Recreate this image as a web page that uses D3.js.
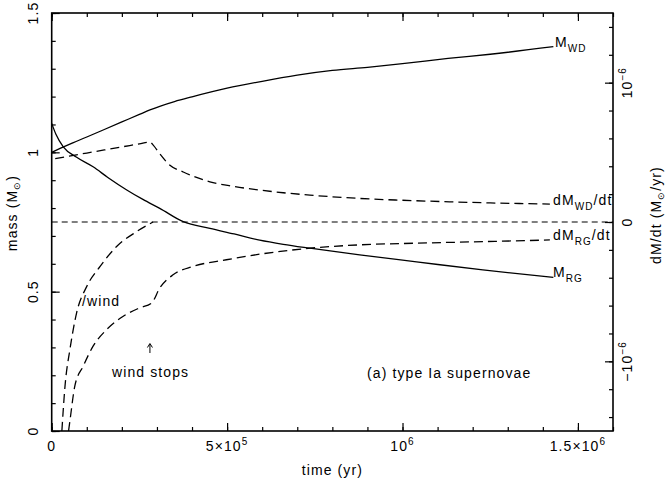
<!DOCTYPE html>
<html>
<head>
<meta charset="utf-8">
<script src="https://cdn.jsdelivr.net/npm/d3@7"></script>
<style>
  body { margin: 0; background: #fff; }
  svg { display: block; }
  text { font-family: "Liberation Sans", Arial, Helvetica, sans-serif; font-size: 14px; letter-spacing: 1.1px; fill: #000; }
  .axis line { stroke: #000; stroke-width: 1.2; }
  .axis path { display: none; }
</style>
</head>
<body>
<svg width="667" height="488"></svg>
<script>
// time axis in yr, masses in Msun, rates in units of 1e-6 Msun/yr
var tWD = [0, 2.4e4, 6e4, 1e5, 1.5e5, 2e5, 2.5e5, 2.8e5, 3.1e5, 3.5e5, 4e5, 5e5, 6e5, 7e5, 8e5, 9e5, 1e6, 1.13e6, 1.25e6, 1.43e6];
var massWD = [1.0, 1.014, 1.034, 1.055, 1.082, 1.109, 1.136, 1.152, 1.166, 1.182, 1.199, 1.230, 1.255, 1.277, 1.294, 1.305, 1.318, 1.337, 1.352, 1.379];

var tRG = [0, 1.2e4, 3.3e4, 7e4, 1.18e5, 1.6e5, 2.14e5, 2.6e5, 3.08e5, 3.75e5, 4.51e5, 5.2e5, 5.93e5, 6.6e5, 7.36e5, 8.78e5, 1.04e6, 1.229e6, 1.43e6];
var massRG = [1.104, 1.065, 1.02, 0.983, 0.948, 0.91, 0.865, 0.831, 0.799, 0.751, 0.727, 0.707, 0.685, 0.670, 0.656, 0.632, 0.607, 0.578, 0.551];

var tRateWD = [1e4, 5e4, 1e5, 1.5e5, 2e5, 2.5e5, 2.8e5, 2.9e5, 3.08e5, 3.37e5, 3.75e5, 4.51e5, 5.2e5, 5.93e5, 6.6e5, 7.36e5, 8.78e5, 1e6, 1.134e6, 1.25e6, 1.42e6];
var rateWD = [0.455, 0.473, 0.495, 0.517, 0.539, 0.561, 0.574, 0.55, 0.49, 0.407, 0.359, 0.288, 0.255, 0.229, 0.21, 0.193, 0.169, 0.156, 0.145, 0.137, 0.129];

var tWind = [2.9e4, 3.8e4, 5.2e4, 7.1e4, 1.0e5, 1.38e5, 1.85e5, 2.42e5, 2.89e5];
var rateWind = [-1.5, -1.176, -0.914, -0.652, -0.462, -0.319, -0.176, -0.069, 0];

var tRateRG = [4.8e4, 5.2e4, 6.6e4, 9.0e4, 1.18e5, 1.57e5, 2.04e5, 2.51e5, 2.85e5, 3.08e5, 3.46e5, 4.03e5, 4.98e5, 5.93e5, 7.36e5, 8.78e5, 1.04e6, 1.229e6, 1.42e6];
var rateRG = [-1.5, -1.426, -1.176, -1.034, -0.891, -0.771, -0.676, -0.616, -0.581, -0.474, -0.379, -0.319, -0.271, -0.231, -0.188, -0.164, -0.152, -0.141, -0.129];

var xMinor = d3.range(0, 1.6e6 + 1, 1e5);
var xMajor = [0, 5e5, 1e6, 1.5e6];
var yMinor = d3.range(0, 1.51, 0.1);
var yMajor = [0, 0.5, 1, 1.5];
var rMinor = d3.range(-1.4, 1.41, 0.2);
var rMajor = [-1, 0, 1];

var svg = d3.select('svg');
var plot = {l: 51.7, r: 613, t: 13, b: 431};

var x = d3.scaleLinear().domain([0, 1.6e6]).range([plot.l, plot.r]);
var yL = d3.scaleLinear().domain([0, 1.5]).range([plot.b, plot.t]);
var yR = d3.scaleLinear().domain([-1.5, 1.5]).range([plot.b, plot.t]);

svg.append('defs').append('clipPath').attr('id', 'clip')
    .append('rect')
    .attr('x', plot.l).attr('y', plot.t)
    .attr('width', plot.r - plot.l).attr('height', plot.b - plot.t);

// ticks (all pointing inward)
function addAxis(axis, tr) {
    svg.append('g').attr('class', 'axis')
        .attr('transform', tr)
        .call(axis);
}
addAxis(d3.axisBottom(x).tickValues(xMinor).tickSize(-4).tickFormat(''), 'translate(0,' + plot.b + ')');
addAxis(d3.axisBottom(x).tickValues(xMajor).tickSize(-8).tickFormat(''), 'translate(0,' + plot.b + ')');
addAxis(d3.axisTop(x).tickValues(xMinor).tickSize(-4).tickFormat(''), 'translate(0,' + plot.t + ')');
addAxis(d3.axisTop(x).tickValues(xMajor).tickSize(-8).tickFormat(''), 'translate(0,' + plot.t + ')');
addAxis(d3.axisLeft(yL).tickValues(yMinor).tickSize(-4).tickFormat(''), 'translate(' + plot.l + ',0)');
addAxis(d3.axisLeft(yL).tickValues(yMajor).tickSize(-8).tickFormat(''), 'translate(' + plot.l + ',0)');
addAxis(d3.axisRight(yR).tickValues(rMinor).tickSize(-4).tickFormat(''), 'translate(' + plot.r + ',0)');
addAxis(d3.axisRight(yR).tickValues(rMajor).tickSize(-8).tickFormat(''), 'translate(' + plot.r + ',0)');

svg.append('rect')
    .attr('x', plot.l).attr('y', plot.t)
    .attr('width', plot.r - plot.l).attr('height', plot.b - plot.t)
    .attr('fill', 'none')
    .attr('stroke', '#000')
    .attr('stroke-width', 1.6);

// curves
var g = svg.append('g').attr('clip-path', 'url(#clip)');

function drawLine(ts, vs, yScale, dash) {
    var pts = ts.map(function(t, i) { return [t, vs[i]]; });
    var line = d3.line()
        .x(function(d) { return x(d[0]); })
        .y(function(d) { return yScale(d[1]); })
        .curve(d3.curveMonotoneX);
    g.append('path')
        .datum(pts)
        .attr('d', line)
        .attr('fill', 'none')
        .attr('stroke', '#000')
        .attr('stroke-width', 1.3)
        .attr('stroke-dasharray', dash);
}

// zero rate line
g.append('line')
    .attr('x1', plot.l).attr('x2', plot.r)
    .attr('y1', yR(0)).attr('y2', yR(0))
    .attr('stroke', '#000')
    .attr('stroke-width', 1.2)
    .attr('stroke-dasharray', '6,4');

drawLine(tWD, massWD, yL, null);
drawLine(tRG, massRG, yL, null);
drawLine(tRateWD, rateWD, yR, '9,5');
drawLine(tWind, rateWind, yR, '9,5');
drawLine(tRateRG, rateRG, yR, '9,5');

// tick labels
function sup(sel, base, exp) {
    sel.append('tspan').text(base);
    sel.append('tspan').attr('font-size', '10px').attr('dy', -6).text(exp);
}

var xl = svg.append('g');
xl.append('text').attr('x', x(0)).attr('y', 451).attr('text-anchor', 'middle').text('0');
sup(xl.append('text').attr('x', x(5e5)).attr('y', 451).attr('text-anchor', 'middle'), '5×10', '5');
sup(xl.append('text').attr('x', x(1e6)).attr('y', 451).attr('text-anchor', 'middle'), '10', '6');
sup(xl.append('text').attr('x', x(1.5e6)).attr('y', 451).attr('text-anchor', 'middle'), '1.5×10', '6');

var yLabels = ['0', '0.5', '1', '1.5'];
yMajor.forEach(function(v, i) {
    svg.append('text')
        .attr('transform', 'translate(38,' + yL(v) + ') rotate(-90)')
        .attr('text-anchor', 'middle')
        .text(yLabels[i]);
});

var rLabels = [['−10', '−6'], ['0', ''], ['10', '−6']];
rMajor.forEach(function(v, i) {
    var t = svg.append('text')
        .attr('transform', 'translate(632,' + yR(v) + ') rotate(-90)')
        .attr('text-anchor', 'middle');
    if (rLabels[i][1]) sup(t, rLabels[i][0], rLabels[i][1]);
    else t.text(rLabels[i][0]);
});

// axis titles
svg.append('text')
    .attr('x', (plot.l + plot.r) / 2).attr('y', 475)
    .attr('text-anchor', 'middle')
    .text('time (yr)');

var lt = svg.append('text')
    .attr('transform', 'translate(17,213) rotate(-90)')
    .attr('text-anchor', 'middle');
lt.append('tspan').text('mass (M');
lt.append('tspan').attr('font-size', '9px').attr('dy', 3).text('⊙');
lt.append('tspan').attr('dy', -3).text(')');

var rt = svg.append('text')
    .attr('transform', 'translate(661,215) rotate(-90)')
    .attr('text-anchor', 'middle');
rt.append('tspan').text('dM/dt (M');
rt.append('tspan').attr('font-size', '9px').attr('dy', 3).text('⊙');
rt.append('tspan').attr('dy', -3).text('/yr)');

// curve labels
function subLabel(px, py, pre, sub, post) {
    var t = svg.append('text').attr('x', px).attr('y', py);
    t.append('tspan').text(pre);
    t.append('tspan').attr('font-size', '10px').attr('dy', 5).text(sub);
    if (post) t.append('tspan').attr('dy', -5).text(post);
}
subLabel(555, 47, 'M', 'WD');
subLabel(553, 205, 'dM', 'WD', '/dt');
subLabel(553, 240, 'dM', 'RG', '/dt');
subLabel(553, 277, 'M', 'RG');

svg.append('text').attr('x', 82).attr('y', 306).text('/wind');

// small arrow pointing at where the wind stops
var ax = x(2.8e5);
svg.append('path')
    .attr('d', 'M' + ax + ',353 V344 M' + (ax - 2.5) + ',347.5 L' + ax + ',343.5 L' + (ax + 2.5) + ',347.5')
    .attr('fill', 'none')
    .attr('stroke', '#000')
    .attr('stroke-width', 1);

svg.append('text').attr('x', 112).attr('y', 377).text('wind stops');
svg.append('text').attr('x', 367).attr('y', 378).text('(a) type Ia supernovae');
</script>
</body>
</html>
